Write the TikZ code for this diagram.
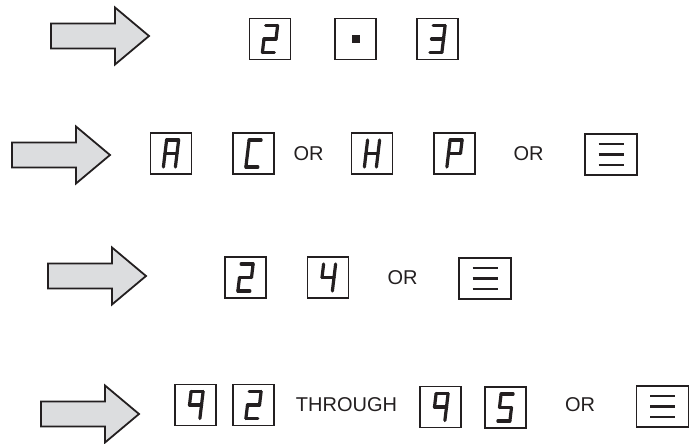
\documentclass[tikz,border=0pt]{standalone}
\usepackage{fontspec}
\setmainfont{Liberation Sans}
\usetikzlibrary{positioning}

\definecolor{inkgray}{RGB}{35,31,32}
\definecolor{arrowfill}{RGB}{220,221,223}

% seven segment digit inside a box node: #1 box, #2 segments
\newcommand{\segdigit}[2]{%
  \begin{scope}[shift={(#1.center)}, xslant=0.12]
    \coordinate (sega1) at (-6,-13.5); \coordinate (sega2) at (6,-13.5);
    \coordinate (segb1) at (6,-13.5);  \coordinate (segb2) at (6,0);
    \coordinate (segc1) at (6,0);      \coordinate (segc2) at (6,13.5);
    \coordinate (segd1) at (-6,13.5);  \coordinate (segd2) at (6,13.5);
    \coordinate (sege1) at (-6,0);     \coordinate (sege2) at (-6,13.5);
    \coordinate (segf1) at (-6,-13.5); \coordinate (segf2) at (-6,0);
    \coordinate (segg1) at (-6,0);     \coordinate (segg2) at (6,0);
    \foreach \s in {#2} {\draw[segline] (seg\s1) -- (seg\s2);}
  \end{scope}}

% three bars inside a wide box
\newcommand{\threebars}[1]{%
  \begin{scope}[shift={(#1.center)}]
    \foreach \y in {-10.5,0,10.5} {\draw[barline] (-12.5,\y) -- (12.5,\y);}
  \end{scope}}

% big grey arrow: #1 left end, #2 height of tip
\newcommand{\bigarrow}[2]{%
  \draw[fatarrow] (#1,#2) ++(0,-12.5) -- ++(64,0) -- ++(0,-16) -- ++(34,28.5)
    -- ++(-34,28.5) -- ++(0,-16) -- ++(-64,0) -- cycle;}

\begin{document}
\begin{tikzpicture}[x=1pt, y=-1pt,
  digitbox/.style={draw=inkgray, line width=1.8pt, minimum width=41pt,
                   minimum height=41pt, inner sep=0pt},
  widebox/.style={digitbox, minimum width=52pt},
  segline/.style={draw=inkgray, line width=3.2pt, line cap=round, line join=round},
  barline/.style={draw=inkgray, line width=2.6pt},
  fatarrow/.style={draw=inkgray, line width=1.8pt, fill=arrowfill, line join=miter},
  word/.style={inner sep=0pt, text=inkgray, font=\fontsize{20}{24}\selectfont}]
  \useasboundingbox (0,0) rectangle (694,444);

  % row 1
  \bigarrow{51}{36}
  \node[digitbox] (r1a) at (270,39) {};
  \node[digitbox] (r1b) at (355.5,39) {};
  \node[digitbox] (r1c) at (437.5,39) {};
  \segdigit{r1a}{a,b,g,e,d}
  \node[fill=inkgray, minimum size=8pt, inner sep=0pt] (r1dot) at (r1b.center) {};
  \segdigit{r1c}{a,b,g,c,d}

  % row 2
  \bigarrow{12}{155}
  \node[digitbox] (r2a) at (171,153.5) {};
  \node[digitbox] (r2b) at (253.5,153.5) {};
  \node[word] (r2or1) at (308.5,153.5) {OR};
  \node[digitbox] (r2c) at (372,153.5) {};
  \node[digitbox] (r2d) at (454.5,153.5) {};
  \node[word] (r2or2) at (528.5,153.5) {OR};
  \node[widebox] (r2e) at (611,154.5) {};
  \segdigit{r2a}{a,b,c,e,f,g}
  \segdigit{r2b}{a,f,e,d}
  \segdigit{r2c}{b,c,e,f,g}
  \segdigit{r2d}{a,b,f,g,e}
  \threebars{r2e}

  % row 3
  \bigarrow{48}{276}
  \node[digitbox] (r3a) at (245.5,277.5) {};
  \node[digitbox] (r3b) at (328,277.5) {};
  \node[word] (r3or) at (402.5,278) {OR};
  \node[widebox] (r3c) at (485,278.5) {};
  \segdigit{r3a}{a,b,g,e,d}
  \segdigit{r3b}{f,g,b,c}
  \threebars{r3c}

  % row 4
  \bigarrow{41}{414}
  \node[digitbox] (r4a) at (195.5,405) {};
  \node[digitbox] (r4b) at (253.5,405) {};
  \node[word] (r4thr) at (346.5,405) {THROUGH};
  \node[digitbox] (r4c) at (440.5,407) {};
  \node[digitbox] (r4d) at (505.5,407.5) {};
  \node[word] (r4or) at (580,405) {OR};
  \node[widebox] (r4e) at (662.5,406.5) {};
  \segdigit{r4a}{a,b,c,f,g}
  \segdigit{r4b}{a,b,g,e,d}
  \segdigit{r4c}{a,b,c,f,g}
  \segdigit{r4d}{a,f,g,c,d}
  \threebars{r4e}
\end{tikzpicture}
\end{document}
